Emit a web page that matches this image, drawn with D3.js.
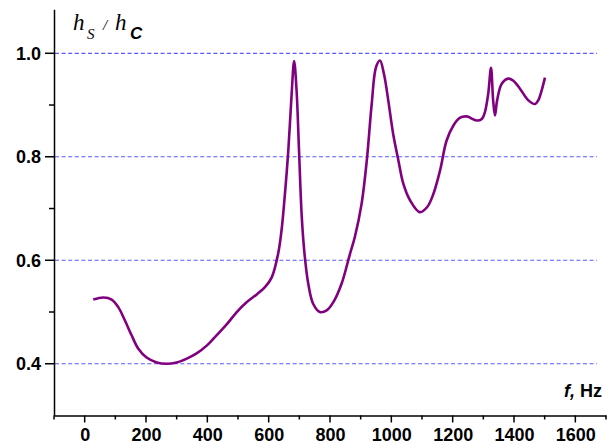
<!DOCTYPE html>
<html lang="en">

<head>
    <meta charset="UTF-8">
    <title>hS / hC vs f</title>
    <script src="https://d3js.org/d3.v7.min.js"></script>
    <style>
        body {
            margin: 0;
            background: #fff;
        }

        .axis text {
            font-family: "Liberation Sans", Arial, sans-serif;
            font-weight: bold;
            font-size: 18px;
            fill: #000;
        }

        .axis path {
            stroke: #000;
            stroke-width: 1.5px;
        }

        .grid line {
            stroke: #5a5aff;
            stroke-width: 1.2px;
            stroke-dasharray: 4, 2.6;
        }

        .serif {
            font-family: "Liberation Serif", "Times New Roman", serif;
            font-style: italic;
        }
    </style>
</head>

<body>
    <svg id="chart" width="609" height="445"></svg>

    <script>
        // frequency (Hz) and ratio hS/hC
        const freq = [28, 61, 88, 110, 131, 153, 175, 202, 235, 267, 300, 333, 365, 398, 430, 463, 496, 528, 561, 588,
            610, 631, 642, 653, 664, 675, 683, 691, 699, 708, 718, 729, 745, 767, 789, 811, 838, 865, 881, 903,
            920, 936, 950, 963, 976, 990, 1006, 1023, 1039, 1061, 1093, 1117, 1137, 1159, 1180, 1202, 1223, 1246,
            1278, 1295, 1305, 1316, 1325, 1332, 1338, 1345, 1360, 1381, 1398, 1420, 1447, 1469, 1479, 1490, 1501];
        const ratio = [0.524, 0.528, 0.524, 0.509, 0.484, 0.455, 0.429, 0.412, 0.4025, 0.400, 0.4025, 0.41, 0.42, 0.435, 0.455, 0.476, 0.50, 0.519, 0.534, 0.548,
            0.567, 0.613, 0.658, 0.728, 0.812, 0.922, 0.985, 0.928, 0.812, 0.683, 0.606, 0.555, 0.516, 0.50, 0.503, 0.519, 0.555, 0.612, 0.645, 0.709,
            0.793, 0.902, 0.973, 0.986, 0.96, 0.909, 0.844, 0.793, 0.748, 0.716, 0.693, 0.703, 0.728, 0.774, 0.831, 0.86, 0.875, 0.878,
            0.870, 0.873, 0.886, 0.922, 0.972, 0.909, 0.880, 0.909, 0.941, 0.951, 0.947, 0.931, 0.909, 0.902, 0.909, 0.928, 0.953];

        const xMajor = [0, 200, 400, 600, 800, 1000, 1200, 1400, 1600];
        const xMinor = [-100, 100, 300, 500, 700, 900, 1100, 1300, 1500, 1700];
        const yMajor = [0.4, 0.6, 0.8, 1.0];
        const yMinor = [0.5, 0.7, 0.9];

        const svg = d3.select('#chart');
        const plotLeft = 54, plotRight = 606, plotBottom = 415.5, plotTop = 9.3;

        let x = d3.scaleLinear().domain([-100, 1700]).range([plotLeft, plotRight]);
        let y = d3.scaleLinear().domain([0.3, 1.085]).range([plotBottom, plotTop]);

        // dashed gridlines
        svg.append('g')
            .attr('class', 'grid')
            .selectAll('line')
            .data(yMajor)
            .join('line')
            .attr('x1', plotLeft + 1)
            .attr('x2', 597)
            .attr('y1', d => y(d))
            .attr('y2', d => y(d));

        // axes: d3 draws the domain line and the labels
        svg.append('g')
            .attr('class', 'axis')
            .attr('transform', `translate(0,${plotBottom})`)
            .call(d3.axisBottom(x).tickValues(xMajor).tickSize(0).tickPadding(13).tickFormat(d3.format('d')));
        svg.append('g')
            .attr('class', 'axis')
            .attr('transform', `translate(${plotLeft},0)`)
            .call(d3.axisLeft(y).tickValues(yMajor).tickSize(0).tickPadding(13).tickFormat(d3.format('.1f')));

        // tick marks, from the same scales
        let ticks = svg.append('g')
            .attr('stroke', '#000')
            .attr('stroke-width', 1.5);
        ticks.selectAll('line.xt')
            .data(xMajor.map(v => [v, 7]).concat(xMinor.map(v => [v, 4])))
            .join('line')
            .attr('class', 'xt')
            .attr('x1', d => x(d[0]))
            .attr('x2', d => x(d[0]))
            .attr('y1', plotBottom)
            .attr('y2', d => plotBottom + d[1]);
        ticks.selectAll('line.yt')
            .data(yMajor.map(v => [v, 9]).concat(yMinor.map(v => [v, 5])))
            .join('line')
            .attr('class', 'yt')
            .attr('x1', plotLeft)
            .attr('x2', d => plotLeft - d[1])
            .attr('y1', d => y(d[0]))
            .attr('y2', d => y(d[0]));

        // the curve
        let line = d3.line()
            .x((d, i) => x(freq[i]))
            .y(d => y(d))
            .curve(d3.curveCatmullRom.alpha(0.5));

        svg.append('path')
            .datum(ratio)
            .attr('fill', 'none')
            .attr('stroke', '#800080')
            .attr('stroke-width', 2.6)
            .attr('stroke-linejoin', 'round')
            .attr('d', line);

        // y title: h_S / h_C
        let title = svg.append('g').style('fill', '#000');
        title.append('text').attr('class', 'serif')
            .attr('x', 73).attr('y', 30).style('font-size', '23px').text('h');
        title.append('text').attr('class', 'serif')
            .attr('x', 87).attr('y', 39).style('font-size', '15px').text('S');
        title.append('text').attr('class', 'serif')
            .attr('x', 103).attr('y', 30).style('font-size', '15px').text('/');
        title.append('text').attr('class', 'serif')
            .attr('x', 115).attr('y', 30).style('font-size', '23px').text('h');
        title.append('text')
            .attr('x', 130).attr('y', 39)
            .style('font-family', '"Liberation Sans", Arial, sans-serif')
            .style('font-style', 'italic')
            .style('font-weight', 'bold')
            .style('font-size', '17px')
            .text('C');

        // x title
        let xTitle = svg.append('text')
            .attr('x', 602)
            .attr('y', 397)
            .attr('text-anchor', 'end')
            .style('font-family', '"Liberation Sans", Arial, sans-serif')
            .style('font-weight', 'bold')
            .style('font-size', '18px')
            .style('fill', '#000');
        xTitle.append('tspan').style('font-style', 'italic').text('f,');
        xTitle.append('tspan').text(' Hz');
    </script>
</body>

</html>
